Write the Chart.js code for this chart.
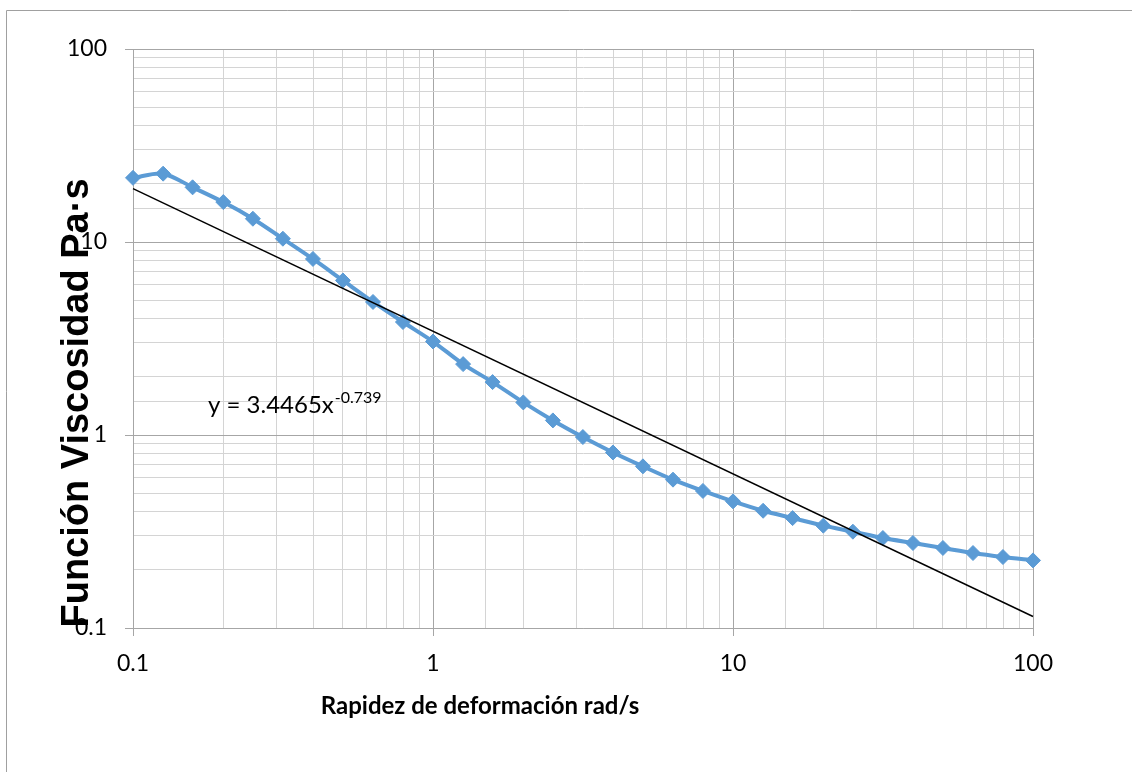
<!DOCTYPE html>
<html lang="es">
<head>
    <meta charset="UTF-8">
    <title>Función Viscosidad vs Rapidez de deformación</title>
    <script src="https://cdn.jsdelivr.net/npm/chart.js"></script>
    <style>
        html, body {
            margin: 0;
            padding: 0;
            background-color: #fff;
        }
        #chart {
            display: block;
        }
    </style>
</head>
<body>
    <canvas id="chart" width="1132" height="772"></canvas>

    <script>
        // Shear rate (rad/s) and measured viscosity (Pa·s)
        const shearRate = [0.1, 0.126, 0.158, 0.2, 0.251, 0.316, 0.398, 0.501, 0.631, 0.794,
                           1, 1.26, 1.58, 2, 2.51, 3.16, 3.98, 5.01, 6.31, 7.94,
                           10, 12.6, 15.8, 20, 25.1, 31.6, 39.8, 50.1, 63.1, 79.4, 100];
        const viscosity = [21.5, 22.6, 19.2, 16.1, 13.2, 10.4, 8.17, 6.32, 4.89, 3.85,
                           3.05, 2.33, 1.88, 1.475, 1.19, 0.976, 0.812, 0.688, 0.587, 0.513,
                           0.453, 0.405, 0.371, 0.339, 0.3155, 0.2926, 0.2757, 0.2598, 0.2446, 0.2332, 0.224];

        // Power-law fit y = 3.4465x^-0.739, end points at x = 0.1 and x = 100
        const trendX = [0.1, 100];
        const trendY = [18.90, 0.1147];
        const trendLabel = 'y = 3.4465x';
        const trendLabelExp = '-0.739';

        const xTitle = 'Rapidez de deformación rad/s';
        const yTitle = 'Función Viscosidad Pa·s';

        const isDecade = v => {
            const l = Math.log10(v);
            return Math.abs(l - Math.round(l)) < 1e-6;
        };
        const decadeLabel = v => isDecade(v) ? String(parseFloat(v.toPrecision(6))) : '';

        const majorGrid = '#a6a6a6';
        const minorGrid = '#d4d4d4';
        const tickFont = { family: 'Lato', size: 23 };

        // Frame, axis titles and the fit equation
        const extras = {
            id: 'extras',
            beforeDraw(chart) {
                const ctx = chart.ctx;
                ctx.save();
                ctx.strokeStyle = '#a0a0a0';
                ctx.lineWidth = 1;
                ctx.beginPath();
                ctx.moveTo(6.5, 772);
                ctx.lineTo(6.5, 10.5);
                ctx.lineTo(1132, 10.5);
                ctx.stroke();
                ctx.restore();
            },
            afterDraw(chart) {
                const ctx = chart.ctx;
                ctx.save();
                ctx.fillStyle = '#000';

                ctx.font = 'bold 24px Lato';
                ctx.textAlign = 'center';
                ctx.textBaseline = 'alphabetic';
                ctx.fillText(xTitle, 480, 714);

                ctx.save();
                ctx.translate(88, 403);
                ctx.rotate(-Math.PI / 2);
                ctx.font = 'bold 38px "Liberation Sans", Arial, sans-serif';
                ctx.fillText(yTitle, 0, 0);
                ctx.restore();

                ctx.textAlign = 'left';
                ctx.font = '24px Lato';
                ctx.fillText(trendLabel, 208, 413);
                const w = ctx.measureText(trendLabel).width;
                ctx.font = '16px Lato';
                ctx.fillText(trendLabelExp, 208 + w + 1, 403);
                ctx.restore();
            }
        };

        new Chart(document.getElementById('chart'), {
            type: 'line',
            data: {
                datasets: [
                    {
                        label: 'Ajuste potencial',
                        data: trendX.map((x, i) => ({ x: x, y: trendY[i] })),
                        borderColor: '#000',
                        borderWidth: 1.5,
                        pointRadius: 0,
                        tension: 0,
                        clip: false,
                        order: 0
                    },
                    {
                        label: 'Función viscosidad',
                        data: shearRate.map((x, i) => ({ x: x, y: viscosity[i] })),
                        borderColor: '#5b9bd5',
                        backgroundColor: '#5b9bd5',
                        borderWidth: 4,
                        pointStyle: 'rectRot',
                        pointRadius: 7.5,
                        pointBorderWidth: 1,
                        pointBorderColor: '#5b9bd5',
                        pointBackgroundColor: '#5b9bd5',
                        tension: 0.3,
                        clip: false,
                        order: 1
                    }
                ]
            },
            options: {
                responsive: false,
                animation: false,
                layout: {
                    padding: { left: 0, top: 49, right: 99, bottom: 0 }
                },
                plugins: {
                    legend: { display: false },
                    tooltip: { enabled: false }
                },
                scales: {
                    x: {
                        type: 'logarithmic',
                        min: 0.1,
                        max: 100,
                        afterFit(scale) { scale.height = 144; },
                        border: { color: majorGrid, width: 1 },
                        grid: {
                            color: c => isDecade(c.tick.value) ? majorGrid : minorGrid,
                            tickColor: c => isDecade(c.tick.value) ? majorGrid : 'rgba(0,0,0,0)',
                            tickLength: 8,
                            lineWidth: 1
                        },
                        ticks: {
                            autoSkip: false,
                            maxRotation: 0,
                            padding: 14,
                            color: '#000',
                            font: tickFont,
                            callback: v => decadeLabel(v)
                        }
                    },
                    y: {
                        type: 'logarithmic',
                        min: 0.1,
                        max: 100,
                        afterFit(scale) { scale.width = 133; },
                        border: { color: majorGrid, width: 1 },
                        grid: {
                            color: c => isDecade(c.tick.value) ? majorGrid : minorGrid,
                            tickColor: c => isDecade(c.tick.value) ? majorGrid : 'rgba(0,0,0,0)',
                            tickLength: 8,
                            lineWidth: 1
                        },
                        ticks: {
                            autoSkip: false,
                            padding: 18,
                            color: '#000',
                            font: tickFont,
                            callback: v => decadeLabel(v)
                        }
                    }
                }
            },
            plugins: [extras]
        });
    </script>
</body>
</html>
